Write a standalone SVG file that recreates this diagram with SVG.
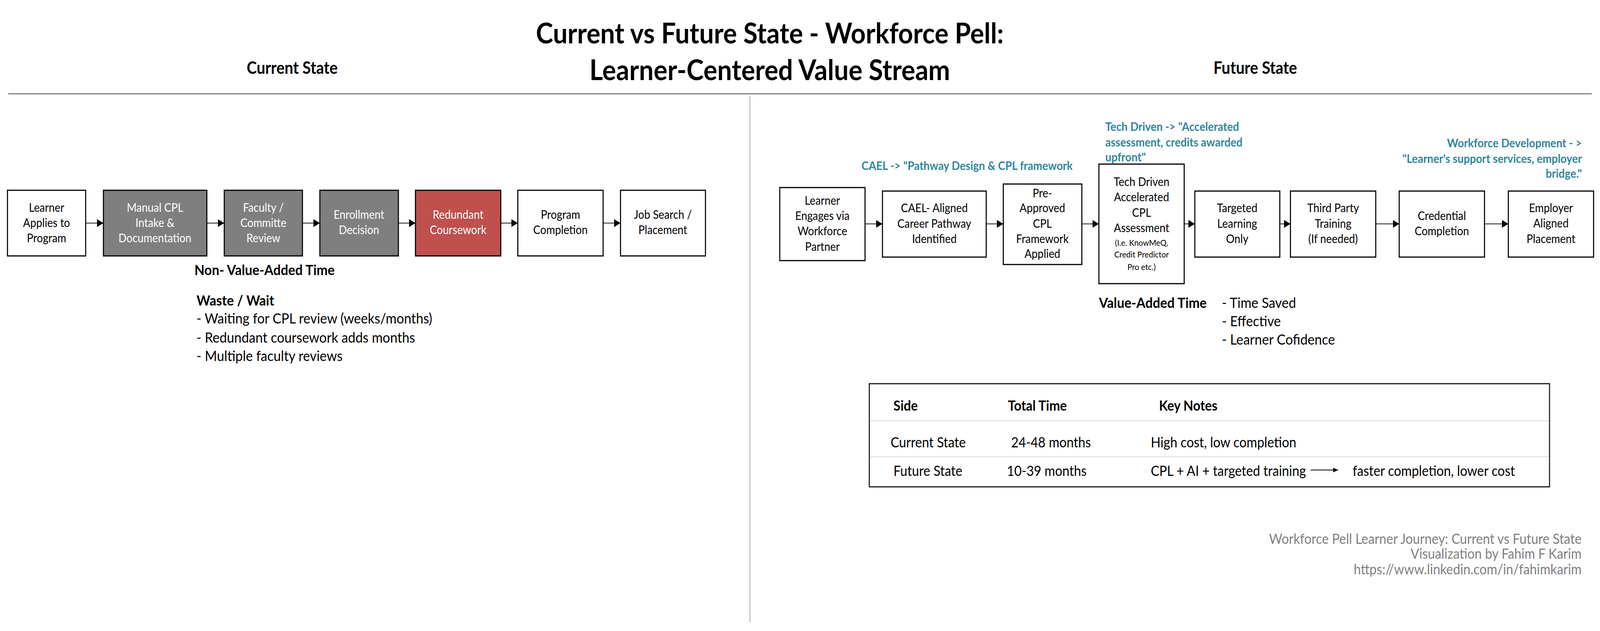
<svg xmlns="http://www.w3.org/2000/svg" width="4502" height="1615" viewBox="0 0 4502 1615">
<defs>
<style>
text{font-family:Lato,"Liberation Sans",sans-serif;}
.title{font-size:73px;font-weight:bold;fill:#000;text-anchor:middle;}
.head{font-size:43px;font-weight:bold;fill:#000;text-anchor:middle;}
.box{stroke:#000;stroke-width:3;}
.w{fill:#fff;}
.g{fill:#7F7F7F;}
.r{fill:#C0504D;}
.bt{font-size:30px;text-anchor:middle;fill:#000;}
.bw{font-size:30px;text-anchor:middle;fill:#fff;}
.sm{font-size:22px;text-anchor:middle;fill:#000;}
.conn{stroke:#404040;stroke-width:2.5;fill:none;marker-end:url(#ah);}
.teal{font-size:30.5px;font-weight:bold;fill:#31859C;}
.lbl{font-size:37px;font-weight:bold;fill:#000;}
.bul{font-size:37px;fill:#000;}
.th{font-size:36px;font-weight:bold;fill:#000;}
.td{font-size:36px;fill:#000;}
.cr{font-size:36px;fill:#808080;text-anchor:end;}
</style>
<marker id="ah" markerUnits="userSpaceOnUse" markerWidth="18" markerHeight="20" refX="18" refY="10" orient="auto">
<path d="M0,0 L18,10 L0,20 Z" fill="#000"/>
</marker>
<marker id="ah2" markerUnits="userSpaceOnUse" markerWidth="14" markerHeight="12" refX="14" refY="6" orient="auto">
<path d="M0,0 L14,6 L0,12 Z" fill="#000"/>
</marker>
</defs>
<rect width="4502" height="1615" fill="#fff"/>
<g id="page" transform="scale(0.90982,1)">

<g id="title">
<text class="title" x="2166" y="111">Current vs Future State - Workforce Pell:</text>
<text class="title" x="2166" y="205">Learner-Centered Value Stream</text>
</g>
<g id="section-heads">
<text class="head" x="822" y="189">Current State</text>
<text class="head" x="3532" y="189">Future State</text>
</g>
<g id="dividers">
<line x1="23" y1="240" x2="4479" y2="240" stroke="#7F7F7F" stroke-width="3"/>
<line x1="2110" y1="246" x2="2110" y2="1593" stroke="#A6A6A6" stroke-width="2"/>
</g>

<g id="connectors">
<line class="conn" x1="241" y1="571" x2="291" y2="571"/>
<line class="conn" x1="582" y1="571" x2="631" y2="571"/>
<line class="conn" x1="851" y1="571" x2="900" y2="571"/>
<line class="conn" x1="1121" y1="571" x2="1169" y2="571"/>
<line class="conn" x1="1409" y1="571" x2="1457" y2="571"/>
<line class="conn" x1="1697" y1="571" x2="1746" y2="571"/>
<line class="conn" x1="2434" y1="573" x2="2483" y2="573"/>
<line class="conn" x1="2775" y1="573" x2="2823" y2="573"/>
<line class="conn" x1="3044" y1="573" x2="3092" y2="573"/>
<line class="conn" x1="3332" y1="573" x2="3362" y2="573"/>
<line class="conn" x1="3601" y1="573" x2="3631" y2="573"/>
<line class="conn" x1="3871" y1="573" x2="3937" y2="573"/>
<line class="conn" x1="4177" y1="573" x2="4244" y2="573"/>
</g>

<g id="c1"><rect class="box w" x="21" y="487" width="220" height="168"/>
<text class="bt" x="131" y="542">Learner</text><text class="bt" x="131" y="581">Applies to</text><text class="bt" x="131" y="620">Program</text></g>
<g id="c2"><rect class="box g" x="291" y="487" width="291" height="168"/>
<text class="bw" x="436" y="542">Manual CPL</text><text class="bw" x="436" y="581">Intake &amp;</text><text class="bw" x="436" y="620">Documentation</text></g>
<g id="c3"><rect class="box g" x="631" y="487" width="220" height="168"/>
<text class="bw" x="741" y="542">Faculty /</text><text class="bw" x="741" y="581">Committe</text><text class="bw" x="741" y="620">Review</text></g>
<g id="c4"><rect class="box g" x="900" y="487" width="221" height="168"/>
<text class="bw" x="1010" y="560">Enrollment</text><text class="bw" x="1010" y="599">Decision</text></g>
<g id="c5"><rect class="box r" x="1169" y="487" width="240" height="168"/>
<text class="bw" x="1289" y="560">Redundant</text><text class="bw" x="1289" y="599">Coursework</text></g>
<g id="c6"><rect class="box w" x="1457" y="487" width="240" height="168"/>
<text class="bt" x="1577" y="560">Program</text><text class="bt" x="1577" y="599">Completion</text></g>
<g id="c7"><rect class="box w" x="1746" y="487" width="239" height="168"/>
<text class="bt" x="1865" y="560">Job Search /</text><text class="bt" x="1865" y="599">Placement</text></g>

<g id="current-notes">
<text class="lbl" x="547" y="704">Non- Value-Added Time</text>
<text class="lbl" x="553" y="782">Waste / Wait</text>
<text class="bul" x="553" y="828">- Waiting for CPL review (weeks/months)</text>
<text class="bul" x="553" y="877">- Redundant coursework adds months</text>
<text class="bul" x="553" y="924">- Multiple faculty reviews</text>
</g>

<g id="f1"><rect class="box w" x="2194" y="480" width="240" height="187"/>
<text class="bt" x="2314" y="524">Learner</text><text class="bt" x="2314" y="563">Engages via</text><text class="bt" x="2314" y="602">Workforce</text><text class="bt" x="2314" y="642">Partner</text></g>
<g id="f2"><rect class="box w" x="2483" y="489" width="292" height="169"/>
<text class="bt" x="2629" y="543">CAEL- Aligned</text><text class="bt" x="2629" y="583">Career Pathway</text><text class="bt" x="2629" y="622">Identified</text></g>
<g id="f3"><rect class="box w" x="2823" y="471" width="221" height="206"/>
<text class="bt" x="2933" y="505">Pre-</text><text class="bt" x="2933" y="543">Approved</text><text class="bt" x="2933" y="583">CPL</text><text class="bt" x="2933" y="622">Framework</text><text class="bt" x="2933" y="660">Applied</text></g>
<g id="f4"><rect class="box w" x="3092" y="420" width="240" height="306"/>
<text class="bt" x="3212" y="476">Tech Driven</text><text class="bt" x="3212" y="515">Accelerated</text><text class="bt" x="3212" y="555">CPL</text><text class="bt" x="3212" y="594">Assessment</text>
<text class="sm" x="3212" y="629">(I.e. KnowMeQ,</text><text class="sm" x="3212" y="659">Credit Predictor</text><text class="sm" x="3212" y="691">Pro etc.)</text></g>
<g id="f5"><rect class="box w" x="3362" y="489" width="239" height="169"/>
<text class="bt" x="3481" y="543">Targeted</text><text class="bt" x="3481" y="583">Learning</text><text class="bt" x="3481" y="622">Only</text></g>
<g id="f6"><rect class="box w" x="3631" y="489" width="240" height="169"/>
<text class="bt" x="3751" y="543">Third Party</text><text class="bt" x="3751" y="583">Training</text><text class="bt" x="3751" y="622">(If needed)</text></g>
<g id="f7"><rect class="box w" x="3937" y="489" width="240" height="169"/>
<text class="bt" x="4057" y="563">Credential</text><text class="bt" x="4057" y="602">Completion</text></g>
<g id="f8"><rect class="box w" x="4244" y="489" width="240" height="169"/>
<text class="bt" x="4364" y="543">Employer</text><text class="bt" x="4364" y="582">Aligned</text><text class="bt" x="4364" y="622">Placement</text></g>

<g id="annotations">
<text class="teal" x="2424" y="435">CAEL -&gt; "Pathway Design &amp; CPL framework</text>
<text class="teal" x="3110" y="335">Tech Driven -&gt; "Accelerated</text>
<text class="teal" x="3110" y="375">assessment, credits awarded</text>
<text class="teal" x="3110" y="413">upfront"</text>
<text class="teal" x="4451" y="377" text-anchor="end">Workforce Development - &gt;</text>
<text class="teal" x="4451" y="417" text-anchor="end">"Learner's support services, employer</text>
<text class="teal" x="4451" y="455" text-anchor="end">bridge."</text>
</g>

<g id="future-notes">
<text class="lbl" x="3092" y="788">Value-Added Time</text>
<text class="bul" x="3438" y="788">- Time Saved</text>
<text class="bul" x="3438" y="835">- Effective</text>
<text class="bul" x="3438" y="882">- Learner Cofidence</text>
</g>

<g id="summary-table">
<rect x="2446" y="982" width="1914" height="264" fill="#fff" stroke="#1a1a1a" stroke-width="3"/>
<line x1="2449" y1="1077" x2="4358" y2="1077" stroke="#D9D9D9" stroke-width="2"/>
<line x1="2449" y1="1169" x2="4358" y2="1169" stroke="#D9D9D9" stroke-width="2"/>
<text class="th" x="2514" y="1051">Side</text>
<text class="th" x="2836" y="1051">Total Time</text>
<text class="th" x="3261" y="1051">Key Notes</text>
<text class="td" x="2506" y="1145">Current State</text>
<text class="td" x="2845" y="1145">24-48 months</text>
<text class="td" x="3238" y="1145">High cost, low completion</text>
<text class="td" x="2514" y="1218">Future State</text>
<text class="td" x="2833" y="1218">10-39 months</text>
<text class="td" x="3238" y="1218">CPL + AI + targeted training</text>
<line x1="3688" y1="1203" x2="3765" y2="1203" stroke="#000" stroke-width="2" marker-end="url(#ah2)"/>
<text class="td" x="3806" y="1218">faster completion, lower cost</text>
</g>

<g id="credits">
<text class="cr" x="4450" y="1392">Workforce Pell Learner Journey: Current vs Future State</text>
<text class="cr" x="4450" y="1430">Visualization by Fahim F Karim</text>
<text class="cr" x="4450" y="1470">https://www.linkedin.com/in/fahimkarim</text>
</g>
</g>
</svg>
